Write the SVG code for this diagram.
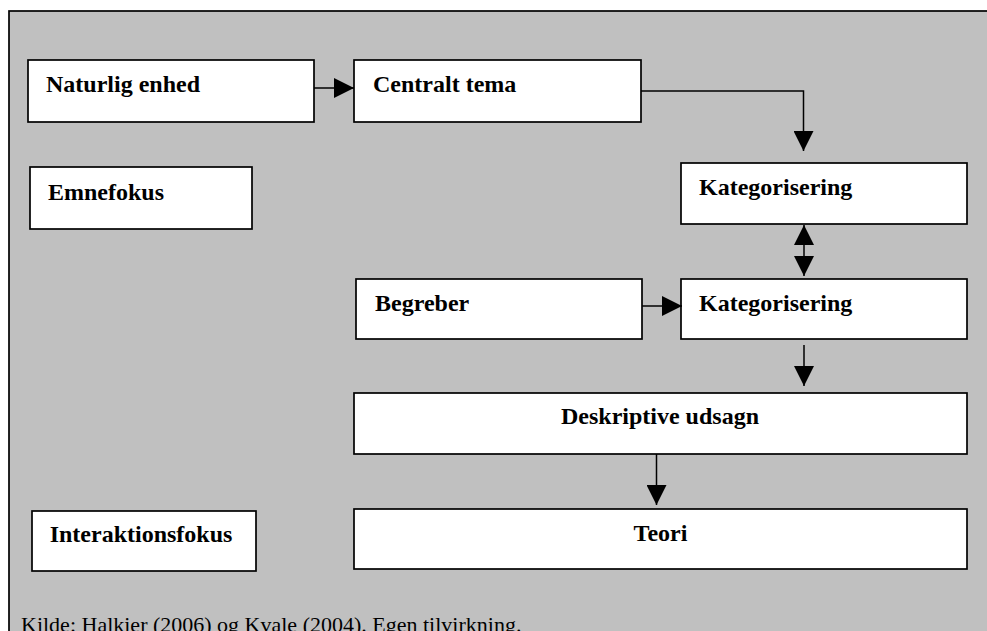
<svg xmlns="http://www.w3.org/2000/svg" width="987" height="631" viewBox="0 0 987 631">
  <style>
    .frame { fill: #c0c0c0; stroke: #000; stroke-width: 1.7; }
    .box { fill: #fff; stroke: #000; stroke-width: 1.7; }
    .lbl { font-family: "Liberation Serif", "Times New Roman", serif; font-weight: bold; font-size: 24px; fill: #000; }
    .mid { text-anchor: middle; }
    .cap { font-family: "Liberation Serif", "Times New Roman", serif; font-size: 22px; fill: #000; }
    .conn { fill: none; stroke: #000; stroke-width: 1.5; }
  </style>
  <defs>
    <marker id="arrow" markerUnits="userSpaceOnUse" markerWidth="20" markerHeight="20" refX="20" refY="10" orient="auto-start-reverse" viewBox="0 0 20 20">
      <path d="M0,0 L20,10 L0,20 Z" fill="#000"/>
    </marker>
  </defs>

  <rect width="987" height="631" fill="#fff"/>
  <rect class="frame" x="9" y="11" width="990" height="640"/>

  <g id="naturlig-enhed">
    <rect class="box" x="28" y="60" width="286" height="62"/>
    <text class="lbl" x="46" y="92">Naturlig enhed</text>
  </g>
  <g id="centralt-tema">
    <rect class="box" x="354" y="60" width="287" height="62"/>
    <text class="lbl" x="373" y="92">Centralt tema</text>
  </g>
  <g id="emnefokus">
    <rect class="box" x="30" y="167" width="222" height="62"/>
    <text class="lbl" x="48" y="200">Emnefokus</text>
  </g>
  <g id="kategorisering-1">
    <rect class="box" x="681" y="163" width="286" height="61"/>
    <text class="lbl" x="699" y="195">Kategorisering</text>
  </g>
  <g id="begreber">
    <rect class="box" x="356" y="279" width="286" height="60"/>
    <text class="lbl" x="375" y="311">Begreber</text>
  </g>
  <g id="kategorisering-2">
    <rect class="box" x="681" y="279" width="286" height="60"/>
    <text class="lbl" x="699" y="311">Kategorisering</text>
  </g>
  <g id="deskriptive-udsagn">
    <rect class="box" x="354" y="393" width="613" height="61"/>
    <text class="lbl mid" x="660" y="424">Deskriptive udsagn</text>
  </g>
  <g id="teori">
    <rect class="box" x="354" y="509" width="613" height="60"/>
    <text class="lbl mid" x="660.5" y="541">Teori</text>
  </g>
  <g id="interaktionsfokus">
    <rect class="box" x="32" y="511" width="224" height="60"/>
    <text class="lbl mid" x="141" y="542">Interaktionsfokus</text>
  </g>

  <g id="connectors">
    <line class="conn" x1="314" y1="88" x2="354" y2="88" marker-end="url(#arrow)"/>
    <polyline class="conn" points="641,91 803.5,91 803.5,151" marker-end="url(#arrow)"/>
    <line class="conn" x1="804" y1="225" x2="804" y2="276" marker-start="url(#arrow)" marker-end="url(#arrow)"/>
    <line class="conn" x1="642" y1="306" x2="682" y2="306" marker-end="url(#arrow)"/>
    <line class="conn" x1="804" y1="345" x2="804" y2="386" marker-end="url(#arrow)"/>
    <line class="conn" x1="656.5" y1="454" x2="656.5" y2="505" marker-end="url(#arrow)"/>
  </g>

  <text class="cap" x="21" y="632">Kilde: Halkier (2006) og Kvale (2004). Egen tilvirkning.</text>
</svg>
